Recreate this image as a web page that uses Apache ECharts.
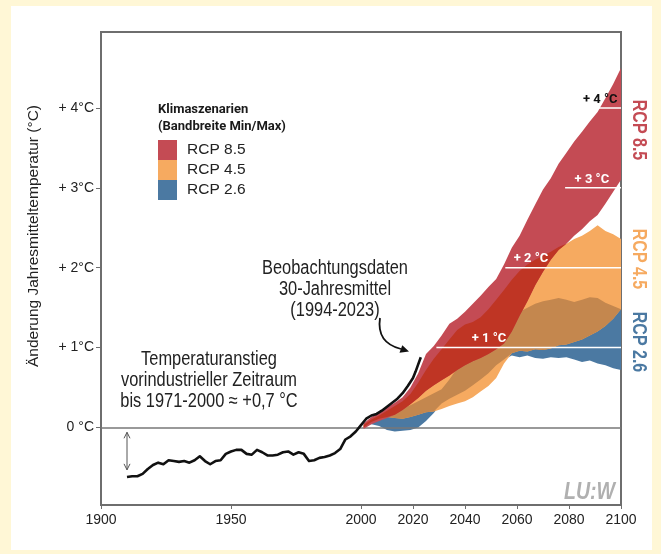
<!DOCTYPE html>
<html><head><meta charset="utf-8">
<script src="https://cdn.jsdelivr.net/npm/echarts@6/dist/echarts.min.js"></script>
<style>html,body{margin:0;padding:0;background:#FFF7D6;} #c{width:661px;height:554px;}</style>
</head><body><div id="c"></div>
<script>
// ---------- data ----------
const years = [2001,2004,2007,2010,2013,2016,2019,2022,2025,2028,2031,2034,2037,2040,2043,2046,2049,2052,2055,2058,2061,2064,2067,2070,2073,2076,2079,2082,2085,2088,2091,2094,2097,2100];
const rcp85Max = [0.05,0.13,0.18,0.25,0.31,0.38,0.50,0.68,0.92,1.02,1.15,1.30,1.36,1.45,1.55,1.65,1.76,1.86,2.04,2.25,2.40,2.60,2.79,2.98,3.12,3.30,3.44,3.58,3.70,3.83,3.95,4.12,4.30,4.50];
const rcp85Min = [-0.02,0.04,0.08,0.12,0.16,0.22,0.29,0.37,0.46,0.53,0.59,0.65,0.72,0.78,0.83,0.87,0.92,0.98,1.05,1.20,1.40,1.58,1.78,1.95,2.10,2.22,2.30,2.40,2.48,2.58,2.66,2.80,2.95,3.10];
const rcp45Max = [0.03,0.10,0.15,0.21,0.27,0.33,0.42,0.56,0.72,0.86,0.98,1.10,1.22,1.29,1.32,1.38,1.48,1.60,1.72,1.85,1.96,2.04,2.10,2.15,2.20,2.26,2.30,2.36,2.40,2.46,2.53,2.46,2.42,2.36];
const rcp45Min = [0.00,0.07,0.11,0.13,0.12,0.11,0.13,0.16,0.19,0.20,0.23,0.27,0.30,0.33,0.38,0.45,0.52,0.62,0.80,0.93,0.96,0.95,0.98,0.97,0.99,1.03,1.04,1.07,1.10,1.15,1.20,1.27,1.36,1.48];
const rcp26Max = [0.04,0.08,0.12,0.16,0.20,0.24,0.28,0.33,0.38,0.43,0.48,0.60,0.74,0.85,0.95,1.00,1.08,1.15,1.25,1.35,1.45,1.50,1.55,1.58,1.60,1.62,1.60,1.57,1.60,1.63,1.62,1.56,1.52,1.48];
const rcp26Min = [0.03,0.04,0.02,-0.03,-0.05,-0.04,-0.03,0.00,0.08,0.18,0.30,0.36,0.41,0.46,0.53,0.60,0.68,0.78,0.85,0.90,0.88,0.90,0.87,0.86,0.88,0.87,0.88,0.85,0.82,0.84,0.80,0.78,0.74,0.72];

const obsYears = [1910,1912,1914,1916,1918,1920,1922,1924,1926,1928,1930,1932,1934,1936,1938,1940,1942,1944,1946,1948,1950,1952,1954,1956,1958,1960,1962,1964,1966,1968,1970,1972,1974,1976,1978,1980,1982,1984,1986,1988,1990,1992,1994,1996,1998,2000,2002,2004,2006,2008,2010,2012,2014,2016,2018,2020,2021,2022,2023];
const obsValues = [-0.62,-0.61,-0.61,-0.58,-0.52,-0.47,-0.44,-0.46,-0.41,-0.42,-0.43,-0.42,-0.44,-0.41,-0.36,-0.42,-0.46,-0.42,-0.41,-0.33,-0.30,-0.28,-0.28,-0.33,-0.34,-0.28,-0.31,-0.35,-0.35,-0.34,-0.31,-0.30,-0.34,-0.31,-0.33,-0.42,-0.41,-0.38,-0.37,-0.35,-0.32,-0.27,-0.15,-0.11,-0.05,0.03,0.11,0.15,0.17,0.21,0.26,0.31,0.36,0.43,0.52,0.62,0.70,0.79,0.88];

const xTicks = [1900,1950,2000,2020,2040,2060,2080,2100];
const yTicks = [0,1,2,3,4];
const yTickLabels = ['0 °C','+ 1°C','+ 2°C','+ 3°C','+ 4°C'];

const refLevels = [1,2,3,4];
const refStartYears = [2029,2055.5,2078.5,2085];
const refLabelYears = [2049.2,2065.4,2088.8,2092];
const refLabels = ['+ 1 °C','+ 2 °C','+ 3 °C','+ 4 °C'];

const arrowYear = [1910];
const arrowTop = [-0.06];
const arrowBottom = [-0.53];

const scenarioNames = ['RCP 8.5','RCP 4.5','RCP 2.6'];

// ---------- styles ----------
const C85 = '#C44B54', C45 = '#F6AA60', C26 = '#4B79A2', CTAN = '#C4874E', CDARK = '#BF3524';
const SANS = "'Liberation Sans',Arial,sans-serif";
const BOLD = "Roboto,'Liberation Sans',sans-serif";
const NX = 0.82; // horizontal squeeze to imitate a narrow face

// overlap bounds derived from the band arrays
const ovOBlo = years.map((_, i) => Math.max(rcp45Min[i], rcp26Min[i]));
const ovOBhi = years.map((_, i) => Math.max(ovOBlo[i], Math.min(rcp45Max[i], rcp26Max[i])));
const ovROlo = years.map((_, i) => Math.max(rcp85Min[i], rcp45Min[i]));
const ovROhi = years.map((_, i) => Math.max(ovROlo[i], Math.min(rcp85Max[i], rcp45Max[i])));

function bandSeries(name, lo, hi, color, z) {
  return {
    type: 'custom', name: name, z: z, silent: true,
    coordinateSystem: 'cartesian2d',
    encode: { x: 0, y: [1, 2] },
    data: years.map((y, i) => [y, lo[i], hi[i]]),
    itemStyle: { color: color },
    renderItem: function (params, api) {
      if (params.dataIndex !== 0) return null;
      const pts = [];
      for (let i = 0; i < years.length; i++) pts.push(api.coord([years[i], hi[i]]));
      for (let i = years.length - 1; i >= 0; i--) pts.push(api.coord([years[i], lo[i]]));
      return { type: 'polygon', shape: { points: pts }, style: { fill: color } };
    }
  };
}

function narrowText(txt, x, y, size, opts) {
  opts = opts || {};
  return { type: 'text', x: x, y: y, scaleX: opts.scale || NX, rotation: opts.rotation || 0,
    style: { text: txt, x: 0, y: 0, font: (opts.weight || '') + ' ' + size + 'px ' + SANS, fill: opts.fill || '#222',
             textAlign: opts.align || 'center', textVerticalAlign: 'middle', align: opts.align || 'center', verticalAlign: 'middle' } };
}

const chart = echarts.init(document.getElementById('c'), null, { renderer: 'canvas' });

const option = {
  animation: false,
  backgroundColor: '#FFF7D6',
  grid: { left: 101, right: 40, top: 32, bottom: 49, containLabel: false, outerBoundsMode: 'none',
          show: true, borderColor: '#6e6e6e', borderWidth: 2, backgroundColor: 'transparent' },
  xAxis: {
    type: 'value', min: 1900, max: 2100,
    axisLine: { show: true, onZero: false, lineStyle: { color: '#6e6e6e', width: 2 } },
    axisTick: { show: true, customValues: xTicks, length: 4, lineStyle: { color: '#6e6e6e', width: 1 } },
    axisLabel: { customValues: xTicks, color: '#222', fontSize: 14, fontFamily: SANS, margin: 8,
                 formatter: function (v) { return String(Math.round(v)); } },
    splitLine: { show: false }
  },
  yAxis: {
    type: 'value', min: -0.97, max: 4.95,
    axisLine: { show: true, onZero: false, lineStyle: { color: '#6e6e6e', width: 2 } },
    axisTick: { show: true, customValues: yTicks, length: 5, lineStyle: { color: '#6e6e6e', width: 1 } },
    axisLabel: { customValues: yTicks, color: '#222', fontSize: 14, fontFamily: SANS, margin: 7,
                 formatter: function (v) { const k = yTicks.indexOf(Math.round(v)); return k >= 0 ? yTickLabels[k] : ''; } },
    splitLine: { show: false }
  },
  legend: {
    orient: 'vertical', left: 158, top: 140, padding: 0, itemWidth: 19, itemHeight: 20, itemGap: 0,
    selectedMode: false, icon: 'rect',
    data: [
      { name: scenarioNames[0], itemStyle: { color: C85, borderWidth: 0 } },
      { name: scenarioNames[1], itemStyle: { color: C45, borderWidth: 0 } },
      { name: scenarioNames[2], itemStyle: { color: C26, borderWidth: 0 } }
    ],
    textStyle: { fontFamily: SANS, fontSize: 15.5, color: '#222', lineHeight: 20, padding: [0, 0, 0, 5] }
  },
  graphic: [
    { type: 'rect', z: -100, shape: { x: 11, y: 6, width: 641, height: 544 }, style: { fill: '#ffffff' } },
    { type: 'text', x: 34, y: 236, rotation: Math.PI / 2,
      style: { text: 'Änderung Jahresmitteltemperatur (°C)', x: 0, y: 0, font: "15.5px 'Liberation Sans', Arial, sans-serif", fill: '#222',
               textAlign: 'center', textVerticalAlign: 'middle', align: 'center', verticalAlign: 'middle' } },
    { type: 'text', x: 158, y: 110, style: { text: 'Klimaszenarien', font: "bold 13px " + BOLD, fill: '#1a1a1a', textVerticalAlign: 'middle', verticalAlign: 'middle' } },
    { type: 'text', x: 158, y: 127, style: { text: '(Bandbreite Min/Max)', font: "bold 13px " + BOLD, fill: '#1a1a1a', textVerticalAlign: 'middle', verticalAlign: 'middle' } },
    narrowText('Temperaturanstieg', 209, 359, 20),
    narrowText('vorindustrieller Zeitraum', 209, 380, 20),
    narrowText('bis 1971-2000 ≈ +0,7 °C', 209, 401, 20),
    narrowText('Beobachtungsdaten', 335, 268, 20),
    narrowText('30-Jahresmittel', 335, 289, 20),
    narrowText('(1994-2023)', 335, 310, 20),
    { type: 'bezierCurve', shape: { x1: 380, y1: 318, cpx1: 377, cpy1: 338, cpx2: 389, cpy2: 346, x2: 401, y2: 349 },
      style: { stroke: '#111', lineWidth: 1.8, fill: null } },
    { type: 'polygon', shape: { points: [[409, 351.5], [399.5, 352.8], [402.3, 345.2]] }, style: { fill: '#111' } },
    narrowText('RCP 8.5', 638, 130, 19.5, { weight: 'bold', fill: C85, rotation: -Math.PI / 2 }),
    narrowText('RCP 4.5', 638, 259, 19.5, { weight: 'bold', fill: C45, rotation: -Math.PI / 2 }),
    narrowText('RCP 2.6', 638, 342, 19.5, { weight: 'bold', fill: C26, rotation: -Math.PI / 2 }),
    narrowText('LU:W', 615, 493, 23, { weight: 'italic bold', fill: '#b0b0b0', align: 'right', scale: 0.85 })
  ],
  series: [
    bandSeries('RCP 2.6', rcp26Min, rcp26Max, C26, 2),
    bandSeries('RCP 4.5', rcp45Min, rcp45Max, C45, 3),
    bandSeries('overlap 4.5/2.6', ovOBlo, ovOBhi, CTAN, 4),
    bandSeries('RCP 8.5', rcp85Min, rcp85Max, C85, 5),
    bandSeries('overlap 8.5/4.5', ovROlo, ovROhi, CDARK, 6),
    {
      type: 'custom', name: 'refs', z: 7, silent: true, coordinateSystem: 'cartesian2d',
      encode: { x: 0, y: 1 },
      data: refLevels.map((v, i) => [refStartYears[i], v]),
      renderItem: function (params, api) {
        const i = params.dataIndex;
        const p0 = api.coord([refStartYears[i], refLevels[i]]);
        const p1 = api.coord([2100, refLevels[i]]);
        const pl = api.coord([refLabelYears[i], refLevels[i]]);
        return { type: 'group', children: [
          { type: 'line', shape: { x1: p0[0], y1: p0[1], x2: p1[0], y2: p1[1] }, style: { stroke: '#ffffff', lineWidth: 1.5 } },
          { type: 'text', x: pl[0], y: pl[1] - 2,
            style: { text: refLabels[i], fill: refLevels[i] === 4 ? '#111' : '#ffffff', font: 'bold 13px ' + BOLD,
                     textAlign: 'center', textVerticalAlign: 'bottom', align: 'center', verticalAlign: 'bottom' } }
        ] };
      },
      markLine: { silent: true, symbol: 'none', label: { show: false },
                  lineStyle: { color: '#777', width: 1.5, type: 'solid' }, data: [{ yAxis: 0 }] }
    },
    {
      type: 'custom', name: 'arrow', z: 8, silent: true, coordinateSystem: 'cartesian2d',
      encode: { x: 0, y: [1, 2] },
      data: arrowYear.map((y, i) => [y, arrowTop[i], arrowBottom[i]]),
      renderItem: function (params, api) {
        const i = params.dataIndex;
        const a = api.coord([arrowYear[i], arrowTop[i]]);
        const b = api.coord([arrowYear[i], arrowBottom[i]]);
        const st = { stroke: '#555', lineWidth: 1, fill: null };
        return { type: 'group', children: [
          { type: 'line', shape: { x1: a[0], y1: a[1], x2: b[0], y2: b[1] }, style: st },
          { type: 'polyline', shape: { points: [[a[0] - 3, a[1] + 6], [a[0], a[1]], [a[0] + 3, a[1] + 6]] }, style: st },
          { type: 'polyline', shape: { points: [[b[0] - 3, b[1] - 6], [b[0], b[1]], [b[0] + 3, b[1] - 6]] }, style: st }
        ] };
      }
    },
    {
      type: 'line', name: 'Beobachtung', z: 9, silent: true, showSymbol: false, symbol: 'none',
      data: obsYears.map((y, i) => [y, obsValues[i]]),
      lineStyle: { color: '#111', width: 2.6, join: 'round' }
    }
  ]
};
chart.setOption(option);
</script></body></html>
